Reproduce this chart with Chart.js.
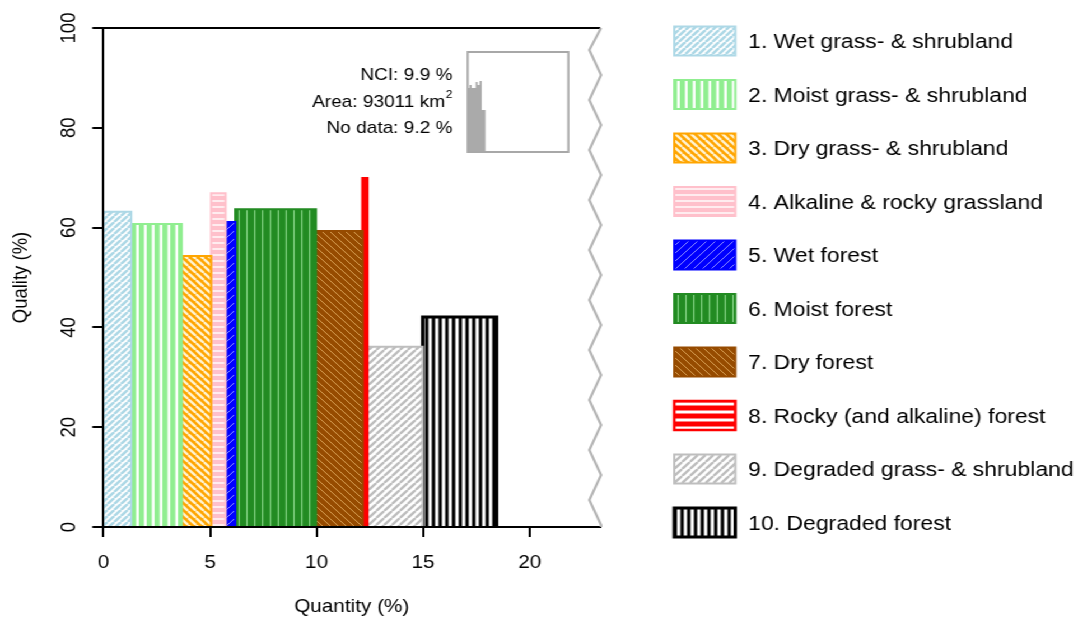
<!DOCTYPE html>
<html>
<head>
<meta charset="utf-8">
<script src="https://cdn.jsdelivr.net/npm/chart.js"></script>
<style>
  html, body { margin: 0; padding: 0; background: #fff; overflow: hidden; }
  /* the reference is slightly wider than tall, so the whole drawing is stretched a bit */
  #stage { position: relative; width: 962px; height: 622px; transform: scaleX(1.12); transform-origin: 0 0; }
  #main { position: absolute; left: 0; top: 0; }
  #inset { position: absolute; left: 416px; top: 51px; }
</style>
</head>
<body>
<div id="stage">
  <canvas id="main" width="962" height="622"></canvas>
  <canvas id="inset" width="93" height="102"></canvas>
</div>
<script>
// Data
const categories = [
    '1. Wet grass- & shrubland',
    '2. Moist grass- & shrubland',
    '3. Dry grass- & shrubland',
    '4. Alkaline & rocky grassland',
    '5. Wet forest',
    '6. Moist forest',
    '7. Dry forest',
    '8. Rocky (and alkaline) forest',
    '9. Degraded grass- & shrubland',
    '10. Degraded forest'
];
const quantity = [1.30, 2.37, 1.38, 0.68, 0.45, 3.79, 2.19, 0.22, 2.60, 3.47];   // bar widths (%)
const quality = [63.2, 60.7, 54.3, 66.9, 61.1, 63.7, 59.3, 69.9, 36.1, 42.1];    // bar heights (%)
const xTicks = [0, 5, 10, 15, 20];
const yTicks = [0, 20, 40, 60, 80, 100];

// small overview histogram in the box
const insetEdges = [0, 2, 4, 8, 10, 12, 14, 18];
const insetValues = [64, 67, 64, 70, 67, 71, 42];
const infoLines = ['NCI: 9.9 %', 'Area: 93011 km', 'No data: 9.2 %'];

// Styles (hatching like R's density/angle fills)
// thin: bar too narrow for the hatching to show, so it is filled plain in the plot
const hatch = [
    { bg: '#ffffff', fg: '#add8e6', kind: 'up',    p: 6,   w: 2.6, edge: '#add8e6', lw: 2 },
    { bg: '#90ee90', fg: '#ffffff', kind: 'vert',  p: 7.4, w: 2.4, edge: '#90ee90', lw: 2 },
    { bg: '#ffa500', fg: '#fff3d0', kind: 'down',  p: 7,   w: 2.4, edge: '#ffa500', lw: 2 },
    { bg: '#ffc0cb', fg: '#ffffff', kind: 'horiz', p: 6,   w: 1.4, edge: '#ffc0cb', lw: 2 },
    { bg: '#0000ff', fg: '#8c8cff', kind: 'up',    p: 8,   w: 1,   edge: '#0000ff', lw: 2 },
    { bg: '#228b22', fg: '#86d486', kind: 'vert',  p: 7,   w: 1.2, edge: '#228b22', lw: 2 },
    { bg: '#964b00', fg: '#d8a055', kind: 'down',  p: 7,   w: 1,   edge: '#964b00', lw: 2 },
    { bg: '#ff0000', fg: '#ffffff', kind: 'horiz', p: 8,   w: 3,   edge: '#ff0000', lw: 2.5, thin: true },
    { bg: '#ffffff', fg: '#bebebe', kind: 'up',    p: 7,   w: 2.4, edge: '#bebebe', lw: 2 },
    { bg: '#ffffff', fg: '#000000', kind: 'vert',  p: 6,   w: 3,   edge: '#000000', lw: 3 }
];

const FONT = "'Liberation Sans', Arial, Helvetica, sans-serif";

function makePattern(h) {
    const size = Math.round(h.p * 4) / 4;
    const c = document.createElement('canvas');
    c.width = size; c.height = size;
    const g = c.getContext('2d');
    g.fillStyle = h.bg;
    g.fillRect(0, 0, size, size);
    g.strokeStyle = h.fg;
    g.lineWidth = h.w;
    g.beginPath();
    if (h.kind === 'vert') {
        g.moveTo(size / 2, 0); g.lineTo(size / 2, size);
    } else if (h.kind === 'horiz') {
        g.moveTo(0, size / 2); g.lineTo(size, size / 2);
    } else {
        [-size, 0, size].forEach(o => {
            if (h.kind === 'up') { g.moveTo(o, size); g.lineTo(o + size, 0); }
            else { g.moveTo(o, 0); g.lineTo(o + size, size); }
        });
    }
    g.stroke();
    return g.createPattern(c, 'repeat');
}

const patterns = hatch.map(makePattern);

// every category becomes a rectangle from its cumulative start to end
let start = 0;
const datasets = categories.map((name, i) => {
    const x0 = start;
    const x1 = start + quantity[i];
    start = x1;
    return {
        label: name,
        data: [
            { x: x0, y: 0 }, { x: x0, y: quality[i] },
            { x: x1, y: quality[i] }, { x: x1, y: 0 }
        ],
        backgroundColor: hatch[i].thin ? hatch[i].bg : patterns[i],
        legendFill: patterns[i],
        borderColor: hatch[i].edge,
        borderWidth: hatch[i].lw,
        borderJoinStyle: 'miter',
        fill: 'origin',
        pointRadius: 0,
        pointHoverRadius: 0,
        tension: 0
    };
});

// axis break, the info text and the legend
const decor = {
    id: 'decor',
    afterDraw(chart) {
        const { ctx, chartArea } = chart;
        ctx.save();

        // zigzag break on the right side
        ctx.strokeStyle = '#b4b4b4';
        ctx.lineWidth = 2.2;
        ctx.lineJoin = 'miter';
        const xr = chartArea.right + 1, xl = chartArea.right - 9.5;
        ctx.beginPath();
        ctx.moveTo(xr, chartArea.top);
        for (let y = 50; y <= 500; y += 50) {
            ctx.lineTo(xl, y);
            ctx.lineTo(xr, y + 25);
        }
        ctx.lineTo(xr, chartArea.bottom);
        ctx.stroke();

        // info text
        ctx.fillStyle = '#000';
        ctx.textAlign = 'right';
        ctx.textBaseline = 'alphabetic';
        ctx.font = '17px ' + FONT;
        ctx.fillText(infoLines[0], 404, 80);
        ctx.font = '11px ' + FONT;
        const supW = ctx.measureText('2').width;
        ctx.fillText('2', 404, 98);
        ctx.font = '17px ' + FONT;
        ctx.fillText(infoLines[1], 404 - supW - 0.5, 106.5);
        ctx.fillText(infoLines[2], 404, 132.5);

        // legend
        ctx.textAlign = 'left';
        ctx.font = '20.5px ' + FONT;
        chart.data.datasets.forEach((ds, i) => {
            const yc = 41 + 53.5 * i;
            const bx = 602, bw = 54.5, bh = 29;
            ctx.fillStyle = ds.legendFill;
            ctx.fillRect(bx, yc - bh / 2, bw, bh);
            ctx.strokeStyle = ds.borderColor;
            ctx.lineWidth = ds.borderWidth;
            ctx.strokeRect(bx, yc - bh / 2, bw, bh);
            ctx.fillStyle = '#000';
            ctx.fillText(ds.label, 668, yc + 7.3);
        });
        ctx.restore();
    }
};

const axisGrid = { display: true, drawOnChartArea: false, drawTicks: true, tickLength: 10, color: '#000', lineWidth: 2 };
const axisBorder = { display: true, color: '#000', width: 2, z: 1 };

new Chart(document.getElementById('main'), {
    type: 'line',
    data: { datasets: datasets },
    options: {
        responsive: false,
        animation: false,
        events: [],
        layout: { padding: { left: 0, right: 426.3, top: 28, bottom: 0 } },
        plugins: { legend: { display: false }, tooltip: { enabled: false } },
        scales: {
            x: {
                type: 'linear',
                min: 0,
                max: 23.3,
                afterBuildTicks: s => { s.ticks = xTicks.map(v => ({ value: v })); },
                afterFit: s => { s.height = 95; },
                grid: axisGrid,
                border: axisBorder,
                ticks: { color: '#000', font: { family: FONT, size: 18.5 }, padding: 15, maxRotation: 0, autoSkip: false },
                title: { display: true, text: 'Quantity (%)', color: '#000', font: { family: FONT, size: 18.5 }, padding: { top: 0, bottom: 4 } }
            },
            x2: {
                type: 'linear',
                position: 'top',
                min: 0,
                max: 23.3,
                afterFit: s => { s.height = 0; },
                grid: { display: false, drawTicks: false },
                ticks: { display: false },
                border: axisBorder
            },
            y: {
                type: 'linear',
                min: 0,
                max: 100,
                afterBuildTicks: s => { s.ticks = yTicks.map(v => ({ value: v })); },
                afterFit: s => { s.width = 92.4; },
                grid: axisGrid,
                border: axisBorder,
                ticks: { color: '#000', font: { family: FONT, size: 18.5 }, minRotation: 90, maxRotation: 90, crossAlign: 'center', padding: 5, autoSkip: false },
                title: { display: true, text: 'Quality (%)', color: '#000', font: { family: FONT, size: 18.5 }, padding: { top: 8, bottom: 0 } }
            }
        }
    },
    plugins: [decor]
});

// overview histogram inside the grey box
const insetPoints = [{ x: insetEdges[0], y: 0 }];
insetValues.forEach((v, i) => {
    insetPoints.push({ x: insetEdges[i], y: v });
    insetPoints.push({ x: insetEdges[i + 1], y: v });
});
insetPoints.push({ x: insetEdges[insetEdges.length - 1], y: 0 });

const boxFrame = {
    id: 'boxFrame',
    afterDraw(chart) {
        const { ctx, chartArea } = chart;
        ctx.save();
        ctx.strokeStyle = '#a8a8a8';
        ctx.lineWidth = 2;
        ctx.strokeRect(chartArea.left, chartArea.top, chartArea.right - chartArea.left, chartArea.bottom - chartArea.top);
        ctx.restore();
    }
};

new Chart(document.getElementById('inset'), {
    type: 'line',
    data: {
        datasets: [{
            data: insetPoints,
            backgroundColor: '#aaaaaa',
            borderWidth: 0,
            fill: 'origin',
            pointRadius: 0,
            tension: 0
        }]
    },
    options: {
        responsive: false,
        animation: false,
        events: [],
        layout: { padding: { left: 1.5, right: 1.5, top: 1, bottom: 1 } },
        plugins: { legend: { display: false }, tooltip: { enabled: false } },
        scales: {
            x: { type: 'linear', min: 0, max: 100, display: false },
            y: { type: 'linear', min: 0, max: 100, display: false }
        }
    },
    plugins: [boxFrame]
});
</script>
</body>
</html>
